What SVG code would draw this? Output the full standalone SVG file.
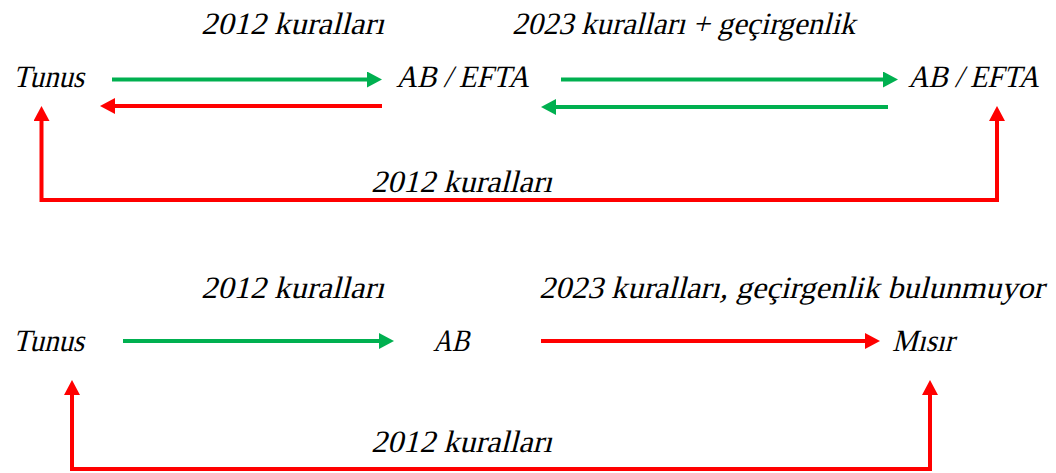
<svg xmlns="http://www.w3.org/2000/svg" width="1056" height="473" viewBox="0 0 1056 473">
<style>
text{font-family:'Liberation Serif','Times New Roman',serif;font-style:normal;font-size:31px;fill:#000}
.g{stroke:#00B050;stroke-width:4;fill:none}
.r{stroke:#FF0000;stroke-width:4;fill:none}
</style>
<defs>
<marker id="ag" markerUnits="userSpaceOnUse" markerWidth="16" markerHeight="16" refX="7" refY="8" orient="auto-start-reverse"><path d="M0,0 L15,8 L0,16 z" fill="#00B050"/></marker>
<marker id="ar" markerUnits="userSpaceOnUse" markerWidth="16" markerHeight="16" refX="7" refY="8" orient="auto-start-reverse"><path d="M0,0 L15,8 L0,16 z" fill="#FF0000"/></marker>
</defs>
<rect width="1056" height="473" fill="#fff"/>
<g id="connectors">
<path class="g" d="M112,79.5 H374" marker-end="url(#ag)"/>
<path class="r" d="M382,106 H108" marker-end="url(#ar)"/>
<path class="g" d="M561,79.5 H890" marker-end="url(#ag)"/>
<path class="g" d="M888,107 H549" marker-end="url(#ag)"/>
<path class="r" d="M41.5,114 V200 H997 V114" marker-start="url(#ar)" marker-end="url(#ar)"/>
<path class="g" d="M123,341 H386" marker-end="url(#ag)"/>
<path class="r" d="M541,341 H872" marker-end="url(#ar)"/>
<path class="r" d="M72,388 V469 H930 V388" marker-start="url(#ar)" marker-end="url(#ar)"/>
</g>
<g id="tunus1" transform="translate(13,87) skewX(-14)"><text x="0" y="0" textLength="71" lengthAdjust="spacingAndGlyphs">Tunus</text></g>
<g id="abefta1" transform="translate(396,87) skewX(-14)"><text x="0" y="0" textLength="133" lengthAdjust="spacingAndGlyphs">AB / EFTA</text></g>
<g id="abefta2" transform="translate(908,87) skewX(-14)"><text x="0" y="0" textLength="131" lengthAdjust="spacingAndGlyphs">AB / EFTA</text></g>
<g id="labels-top">
<text transform="translate(201,34) skewX(-14)" textLength="183" lengthAdjust="spacingAndGlyphs">2012 kuralları</text>
<text transform="translate(512,34) skewX(-14)" textLength="343" lengthAdjust="spacingAndGlyphs">2023 kuralları + geçirgenlik</text>
<text transform="translate(371,192) skewX(-14)" textLength="181" lengthAdjust="spacingAndGlyphs">2012 kuralları</text>
</g>
<g id="tunus2" transform="translate(13,351) skewX(-14)"><text x="0" y="0" textLength="71" lengthAdjust="spacingAndGlyphs">Tunus</text></g>
<g id="ab" transform="translate(433,351) skewX(-14)"><text x="0" y="0" textLength="36" lengthAdjust="spacingAndGlyphs">AB</text></g>
<g id="misir" transform="translate(892,351) skewX(-14)"><text x="0" y="0" textLength="62" lengthAdjust="spacingAndGlyphs">Mısır</text></g>
<g id="labels-bottom">
<text transform="translate(201,298) skewX(-14)" textLength="183" lengthAdjust="spacingAndGlyphs">2012 kuralları</text>
<text transform="translate(539,298) skewX(-14)" textLength="505" lengthAdjust="spacingAndGlyphs">2023 kuralları, geçirgenlik bulunmuyor</text>
<text transform="translate(371,452) skewX(-14)" textLength="181" lengthAdjust="spacingAndGlyphs">2012 kuralları</text>
</g>
</svg>
